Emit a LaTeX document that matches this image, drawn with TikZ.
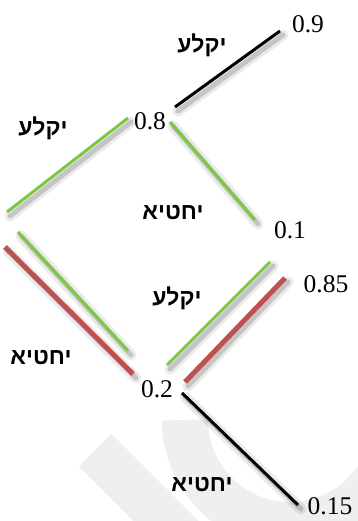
\documentclass[tikz,border=0pt]{standalone}
\usepackage{fontspec}
\setmainfont{Liberation Serif}
\newfontfamily\hebfont[Script=Hebrew]{Liberation Sans Bold}
\TeXXeTstate=1
\definecolor{lgreen}{HTML}{7CC843}
\definecolor{lred}{HTML}{C0504D}
\definecolor{wmark}{HTML}{EFEFEF}
\begin{document}
\begin{tikzpicture}[x=1pt,y=-1pt,
  num/.style={font=\fontsize{25.5}{25}\selectfont, inner sep=0pt},
  heb/.style={font=\hebfont\fontsize{23}{23}\selectfont, inner sep=0pt},
  shad/.style={preaction={draw=black, opacity=0.08, line width=11pt, line cap=round,
      transform canvas={xshift=3pt,yshift=-4pt}},
    preaction={draw=black, opacity=0.16, line width=5pt, line cap=round,
      transform canvas={xshift=3pt,yshift=-4pt}}},
  gline/.style={shad, draw=lgreen, line width=3pt},
  rline/.style={shad, draw=lred, line width=5pt},
  kline/.style={shad, draw=black, line width=3pt},
  wm/.style={draw=wmark, line width=46pt}]
\useasboundingbox (0,0) rectangle (358,521);
% watermark
\begin{scope}
\clip (0,0) rectangle (358,521);
\draw[wm] (185,420) arc[start angle=180, end angle=-20, radius=105];
\draw[wm] (95,450) -- (200,555);
\end{scope}
% numbers
\node[num] (n09) at (308,24) {0.9};
\node[num] (n08) at (150,121) {0.8};
\node[num] (n01) at (290,230) {0.1};
\node[num] (n085) at (326,284) {0.85};
\node[num] (n02) at (157,389) {0.2};
\node[num] (n015) at (330,506) {0.15};
% labels
\node[heb] (h1) at (202,45) {\beginR יקלע\endR};
\node[heb] (h2) at (43,128) {\beginR יקלע\endR};
\node[heb] (h3) at (173,213) {\beginR יחטיא\endR};
\node[heb] (h4) at (177,298) {\beginR יקלע\endR};
\node[heb] (h5) at (41,358) {\beginR יחטיא\endR};
\node[heb] (h6) at (202,485) {\beginR יחטיא\endR};
% line end points
\coordinate (a1) at (175,107); \coordinate (a2) at (280,31);
\coordinate (b1) at (7,212);   \coordinate (b2) at (128,118);
\coordinate (c1) at (170,122); \coordinate (c2) at (255,220);
\coordinate (d1) at (18,232);  \coordinate (d2) at (128,351);
\coordinate (e1) at (5,247);   \coordinate (e2) at (133,374);
\coordinate (f1) at (167,365); \coordinate (f2) at (270,262);
\coordinate (g1) at (185,382); \coordinate (g2) at (285,278);
\coordinate (k1) at (182,393); \coordinate (k2) at (298,505);
% lines
\draw[kline] (a1) -- (a2);
\draw[gline] (b1) -- (b2);
\draw[gline] (c1) -- (c2);
\draw[rline] (e1) -- (e2);
\draw[gline] (d1) -- (d2);
\draw[gline] (f1) -- (f2);
\draw[rline] (g1) -- (g2);
\draw[kline] (k1) -- (k2);
\end{tikzpicture}
\end{document}
